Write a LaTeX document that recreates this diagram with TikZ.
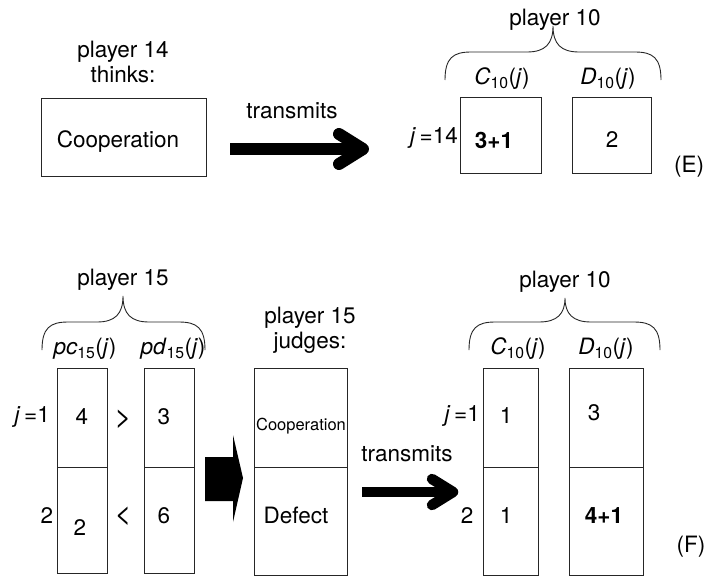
\documentclass[tikz,border=0pt]{standalone}
\usepackage{fontspec}
\setmainfont{TeX Gyre Heros}
\usetikzlibrary{calc}

\tikzset{
  cell/.style={draw=black!85, line width=0.9pt, inner sep=0pt},
  lbl/.style={inner sep=0pt, font=\fontsize{22.5}{25}\selectfont, align=center},
  smalllbl/.style={inner sep=0pt, font=\fontsize{16.5}{19}\selectfont},
  rel/.style={inner sep=0pt, font=\fontsize{29}{30}\selectfont},
  bracepath/.style={draw=black!85, line width=0.9pt},
  shaft/.style={line width=#1},
  chevron/.style={line width=#1, line cap=round, line join=round},
}

% curly brace: left x, tip x, right x, end y, flat y, tip y
\newcommand{\curlybrace}[6]{%
  \draw[bracepath] (#1,#4) .. controls (#1,#5+6) and (#1+8,#5) .. (#1+26,#5)
    -- (#2-26,#5) .. controls (#2-8,#5) and (#2,#5-8) .. (#2,#6)
    .. controls (#2,#5-8) and (#2+8,#5) .. (#2+26,#5)
    -- (#3-26,#5) .. controls (#3-8,#5) and (#3,#5+6) .. (#3,#4);
}

% variable with subscript and argument j
\newcommand{\subvar}[2]{\textit{#1}\textsubscript{#2}(\textit{j})}

\begin{document}
\begin{tikzpicture}[x=1pt, y=-1pt]
\useasboundingbox (0,0) rectangle (706,576);

% ---------------- (E) ----------------
\node[lbl] (p14) at (123,62) {player 14\\thinks:};
\node[cell, minimum width=165pt, minimum height=78pt] (coop) at (123.5,137) {};
\node[lbl] (coopt) at (118,142) {Cooperation};

\node[lbl] (trE) at (292,111) {transmits};
\coordinate (aEs) at (230,149);
\coordinate (aEh) at (363,149);
\draw[shaft=12pt] (aEs) -- (aEh);
\draw[chevron=12pt] ($(aEh)+(-24,-15)$) -- (aEh) -- ($(aEh)+(-24,15)$);

\node[lbl] (p10E) at (555,20) {player 10};
\curlybrace{445}{553}{661}{80}{52}{26}
\node[lbl] (cE) at (502,79) {\subvar{C}{10}};
\node[lbl] (dE) at (608,79) {\subvar{D}{10}};
\node[cell, minimum width=81pt, minimum height=76pt] (boxCE) at (500.5,135) {};
\node[cell, minimum width=79pt, minimum height=76pt] (boxDE) at (611.5,135) {};
\node[lbl, anchor=east] (j14) at (458,138) {\textit{j}\,=14};
\node[lbl] (vCE) at (494,140) {\textbf{3+1}};
\node[lbl] (vDE) at (612,140) {2};
\node[lbl] (tagE) at (689,167) {(E)};

% ---------------- (F) ----------------
\node[lbl] (p15) at (123,280) {player 15};
\curlybrace{42}{123}{205}{350}{322}{296}
\node[lbl] (pc) at (85,349) {\subvar{pc}{15}};
\node[lbl] (pd) at (173,349) {\subvar{pd}{15}};
\node[cell, minimum width=50pt, minimum height=99pt] (pc1) at (82,417.5) {};
\node[cell, minimum width=50pt, minimum height=106pt] (pc2) at (82,520) {};
\node[cell, minimum width=50pt, minimum height=99pt] (pd1) at (169,417.5) {};
\node[cell, minimum width=50pt, minimum height=106pt] (pd2) at (169,520) {};
\node[lbl, anchor=east] (jL1) at (50,417) {\textit{j}\,=1};
\node[lbl] (vpc1) at (82,417) {4};
\node[rel] (gt) at (123,419) {>};
\node[lbl] (vpd1) at (164,417) {3};
\node[lbl] (jL2) at (47,516) {2};
\node[lbl] (vpc2) at (80,528) {2};
\node[rel] (lt) at (123,516) {<};
\node[lbl] (vpd2) at (164,516) {6};

% block arrow into the judgement
\fill[black] (205,457) -- (233,457) -- (233,435) -- (243,478) -- (233,522)
  -- (233,501) -- (205,501) -- cycle;

\node[lbl] (p15j) at (310,330) {player 15\\judges:};
\node[cell, minimum width=93pt, minimum height=99pt] (jd1) at (300.5,417.5) {};
\node[cell, minimum width=93pt, minimum height=108pt] (jd2) at (300.5,521) {};
\node[smalllbl] (jcoop) at (301,426) {Cooperation};
\node[lbl] (jdef) at (296,515) {Defect};

\node[lbl] (trF) at (407,454) {transmits};
\coordinate (aFs) at (362,492);
\coordinate (aFh) at (453,492);
\draw[shaft=10.5pt] (aFs) -- (aFh);
\draw[chevron=10.5pt] ($(aFh)+(-21,-13)$) -- (aFh) -- ($(aFh)+(-21,13)$);

\node[lbl] (p10F) at (565,282) {player 10};
\curlybrace{469}{565}{660}{350}{322}{298}
\node[lbl] (cF) at (518,349) {\subvar{C}{10}};
\node[lbl] (dF) at (606,349) {\subvar{D}{10}};
\node[cell, minimum width=55pt, minimum height=99pt] (cF1) at (510.5,417.5) {};
\node[cell, minimum width=55pt, minimum height=108pt] (cF2) at (510.5,521) {};
\node[cell, minimum width=74pt, minimum height=99pt] (dF1) at (606,417.5) {};
\node[cell, minimum width=74pt, minimum height=108pt] (dF2) at (606,521) {};
\node[lbl, anchor=east] (jR1) at (480,416) {\textit{j}\,=1};
\node[lbl] (vcF1) at (506,416) {1};
\node[lbl] (vdF1) at (594,413) {3};
\node[lbl] (jR2) at (467,516) {2};
\node[lbl] (vcF2) at (506,516) {1};
\node[lbl] (vdF2) at (604,516) {\textbf{4+1}};
\node[lbl] (tagF) at (691,547) {(F)};
\end{tikzpicture}
\end{document}
